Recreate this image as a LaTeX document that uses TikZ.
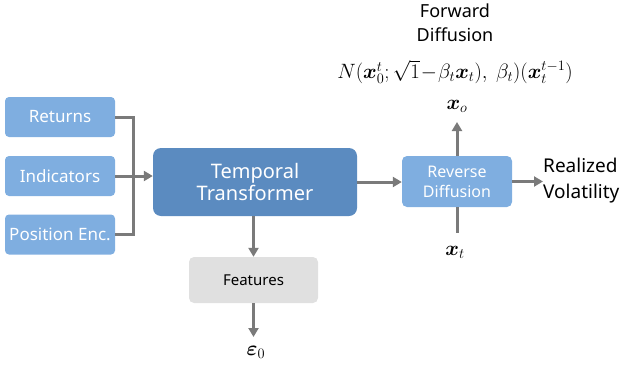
\documentclass[tikz,border=0pt]{standalone}
\usepackage{amsmath,bm}
\usepackage{fontspec}
\setmainfont{Noto Sans}
\usetikzlibrary{arrows.meta}
\definecolor{lightblue}{HTML}{7FAEE0}
\definecolor{darkblue}{HTML}{5B8BC0}
\definecolor{featgray}{HTML}{E0E0E0}
\definecolor{linegray}{HTML}{7A7A7A}
\begin{document}
\begin{tikzpicture}[x=1pt,y=-1pt,
  inbox/.style={draw=none,fill=lightblue,rounded corners=4pt,minimum width=110pt,minimum height=40pt,text=white,font=\fontsize{17}{18}\selectfont,inner sep=0pt},
  conn/.style={draw=linegray,line width=3pt},
  arr/.style={conn,-{Triangle[length=9pt,width=10pt]}},
  lbl/.style={align=center,inner sep=0pt},
  mlbl/.style={inner sep=0pt,font=\fontsize{21}{23}\selectfont}]
\useasboundingbox (0,0) rectangle (621,370);
\node[inbox] (ret) at (60,117) {Returns};
\node[inbox] (ind) at (60,176) {Indicators};
\node[inbox] (pos) at (60,234.5) {Position Enc.};
\node[fill=darkblue,rounded corners=8pt,minimum width=204pt,minimum height=68pt,text=white,align=center,font=\fontsize{20}{22}\selectfont,inner sep=0pt] (tt) at (255,182) {Temporal\\Transformer};
\node[fill=lightblue,rounded corners=5pt,minimum width=110pt,minimum height=51pt,text=white,align=center,font=\fontsize{16}{20}\selectfont,inner sep=0pt] (rd) at (457,181.5) {Reverse\\Diffusion};
\node[fill=featgray,rounded corners=5pt,minimum width=129pt,minimum height=46pt,font=\fontsize{15}{17}\selectfont,inner sep=0pt] (feat) at (253.5,280) {Features};
\node[lbl,anchor=west,font=\fontsize{19}{26}\selectfont,align=left] (rv) at (543,181) {Realized\\Volatility};
\node[lbl,font=\fontsize{18}{24}\selectfont] (fd) at (455,23) {Forward\\Diffusion};
\node[inner sep=0pt,font=\fontsize{19.5}{22}\selectfont] (eq) at (455,72) {$N(\bm{x}_0^t;\sqrt{1}\!-\!\beta_t\bm{x}_t),\ \beta_t)(\bm{x}_t^{t-1})$};
\node[mlbl] (xo) at (457,106) {$\bm{x}_o$};
\node[mlbl] (xt) at (455,252) {$\bm{x}_t$};
\node[mlbl] (eps) at (256,352) {$\bm{\varepsilon}_0$};
\coordinate (xoend) at (457,122);
\coordinate (xtend) at (457,233);
\coordinate (epsend) at (256,337);
\draw[conn] (ret.east) -- (133,117) -- (133,234.5) -- (pos.east);
\draw[arr] (ind.east) -- (ind.east -| tt.west);
\draw[arr] (tt.east) -- (tt.east -| rd.west);
\draw[arr] (rd.east) -- (rd.east -| rv.west);
\draw[arr] (rd.north) -- (xoend);
\draw[conn] (rd.south) -- (xtend);
\draw[arr] (tt.south -| feat.north) -- (feat.north);
\draw[arr] (feat.south) -- (feat.south |- epsend);
\end{tikzpicture}
\end{document}
